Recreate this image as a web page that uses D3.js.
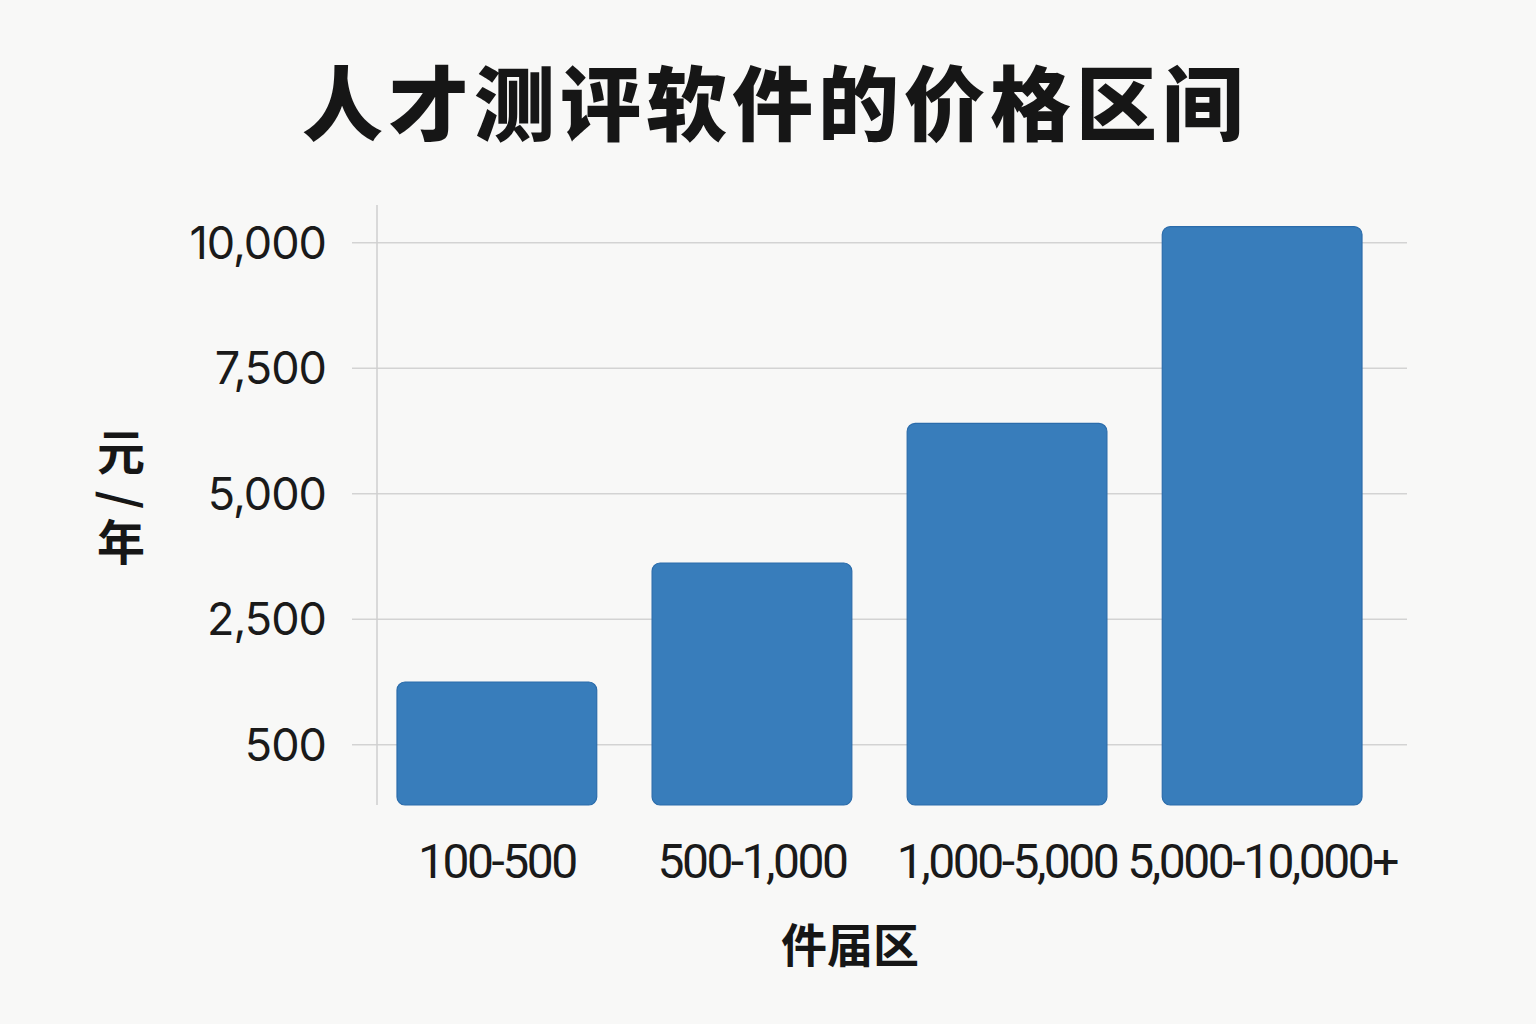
<!DOCTYPE html>
<html><head><meta charset="utf-8">
<script src="https://cdn.jsdelivr.net/npm/d3@7"></script>
<style>
html,body{margin:0;padding:0;background:#f8f8f7;}
svg{display:block;}
</style></head>
<body>
<script>
const categories = ["100-500", "500-1,000", "1,000-5,000", "5,000-10,000+"];
const values = [1250, 3620, 6400, 10320];
const tickValues = [0, 2500, 5000, 7500, 10000];
const tickLabels = ["500", "2,500", "5,000", "7,500", "10,000"];
const title = "人才测评软件的价格区间";
const yTitle = ["元", "/", "年"];
const xTitle = "件届区";

const W = 1536, H = 1024;
const svg = d3.select("body").append("svg").attr("width", W).attr("height", H);
svg.append("rect").attr("width", W).attr("height", H).attr("fill", "#f8f8f7");

const axisX = 377;
const y = d3.scaleLinear().domain([-1200, 10750]).range([805, 205]);
const x = d3.scaleBand().domain(categories).range([397, 1362]).paddingInner(0.217).paddingOuter(0);

// title
svg.append("text").attr("x", 775).attr("y", 134).attr("text-anchor", "middle")
  .attr("font-family", "'Noto Sans CJK SC'").attr("font-weight", 900)
  .attr("font-size", 81).attr("fill", "#161616").attr("letter-spacing", 5).text(title);

// gridlines
svg.append("g").selectAll("line").data(tickValues).join("line")
  .attr("x1", 352).attr("x2", 1407)
  .attr("y1", d => y(d)).attr("y2", d => y(d))
  .attr("stroke", "#d3d3d3").attr("stroke-width", 1.5);

// y axis line
svg.append("line").attr("x1", axisX).attr("x2", axisX).attr("y1", y.range()[1]).attr("y2", y.range()[0])
  .attr("stroke", "#cfcfcf").attr("stroke-width", 1.5);

// tick labels
svg.append("g").selectAll("text").data(tickValues).join("text")
  .attr("x", 326).attr("y", d => y(d)).attr("dy", "0.36em").attr("text-anchor", "end")
  .attr("font-family", "Inter, 'Noto Sans', sans-serif").attr("font-size", 45)
  .attr("letter-spacing", -1).attr("fill", "#1a1a1a")
  .text((d, i) => tickLabels[i]);

// bars
svg.append("g").selectAll("rect").data(values).join("rect")
  .attr("x", (d, i) => x(categories[i]))
  .attr("width", x.bandwidth())
  .attr("y", d => y(d))
  .attr("height", d => y(y.domain()[0]) - y(d))
  .attr("rx", 8).attr("ry", 8)
  .attr("fill", "#387dbb").attr("stroke", "#2b6cab").attr("stroke-width", 1.2);

// x labels
svg.append("g").selectAll("text").data(categories).join("text")
  .attr("x", d => x(d) + x.bandwidth() / 2).attr("y", 878).attr("text-anchor", "middle")
  .attr("font-family", "Roboto, 'Noto Sans', sans-serif").attr("font-size", 48)
  .attr("letter-spacing", -2.5).attr("fill", "#1a1a1a").text(d => d);

// x title
svg.append("text").attr("x", 850).attr("y", 962).attr("text-anchor", "middle")
  .attr("font-family", "'Noto Sans CJK SC'").attr("font-weight", 700)
  .attr("font-size", 46).attr("fill", "#161616").text(xTitle);

// y title, vertical stacked
const yt = svg.append("g").attr("font-family", "'Noto Sans CJK SC'").attr("font-weight", 700)
  .attr("font-size", 48).attr("fill", "#161616");
yt.append("text").attr("x", 121).attr("y", 470).attr("text-anchor", "middle").text(yTitle[0]);
yt.append("text").attr("transform", "translate(121,500) rotate(90)").attr("text-anchor", "middle")
  .attr("dy", "0.35em").text(yTitle[1]);
yt.append("text").attr("x", 121).attr("y", 560).attr("text-anchor", "middle").text(yTitle[2]);
</script>
</body></html>
